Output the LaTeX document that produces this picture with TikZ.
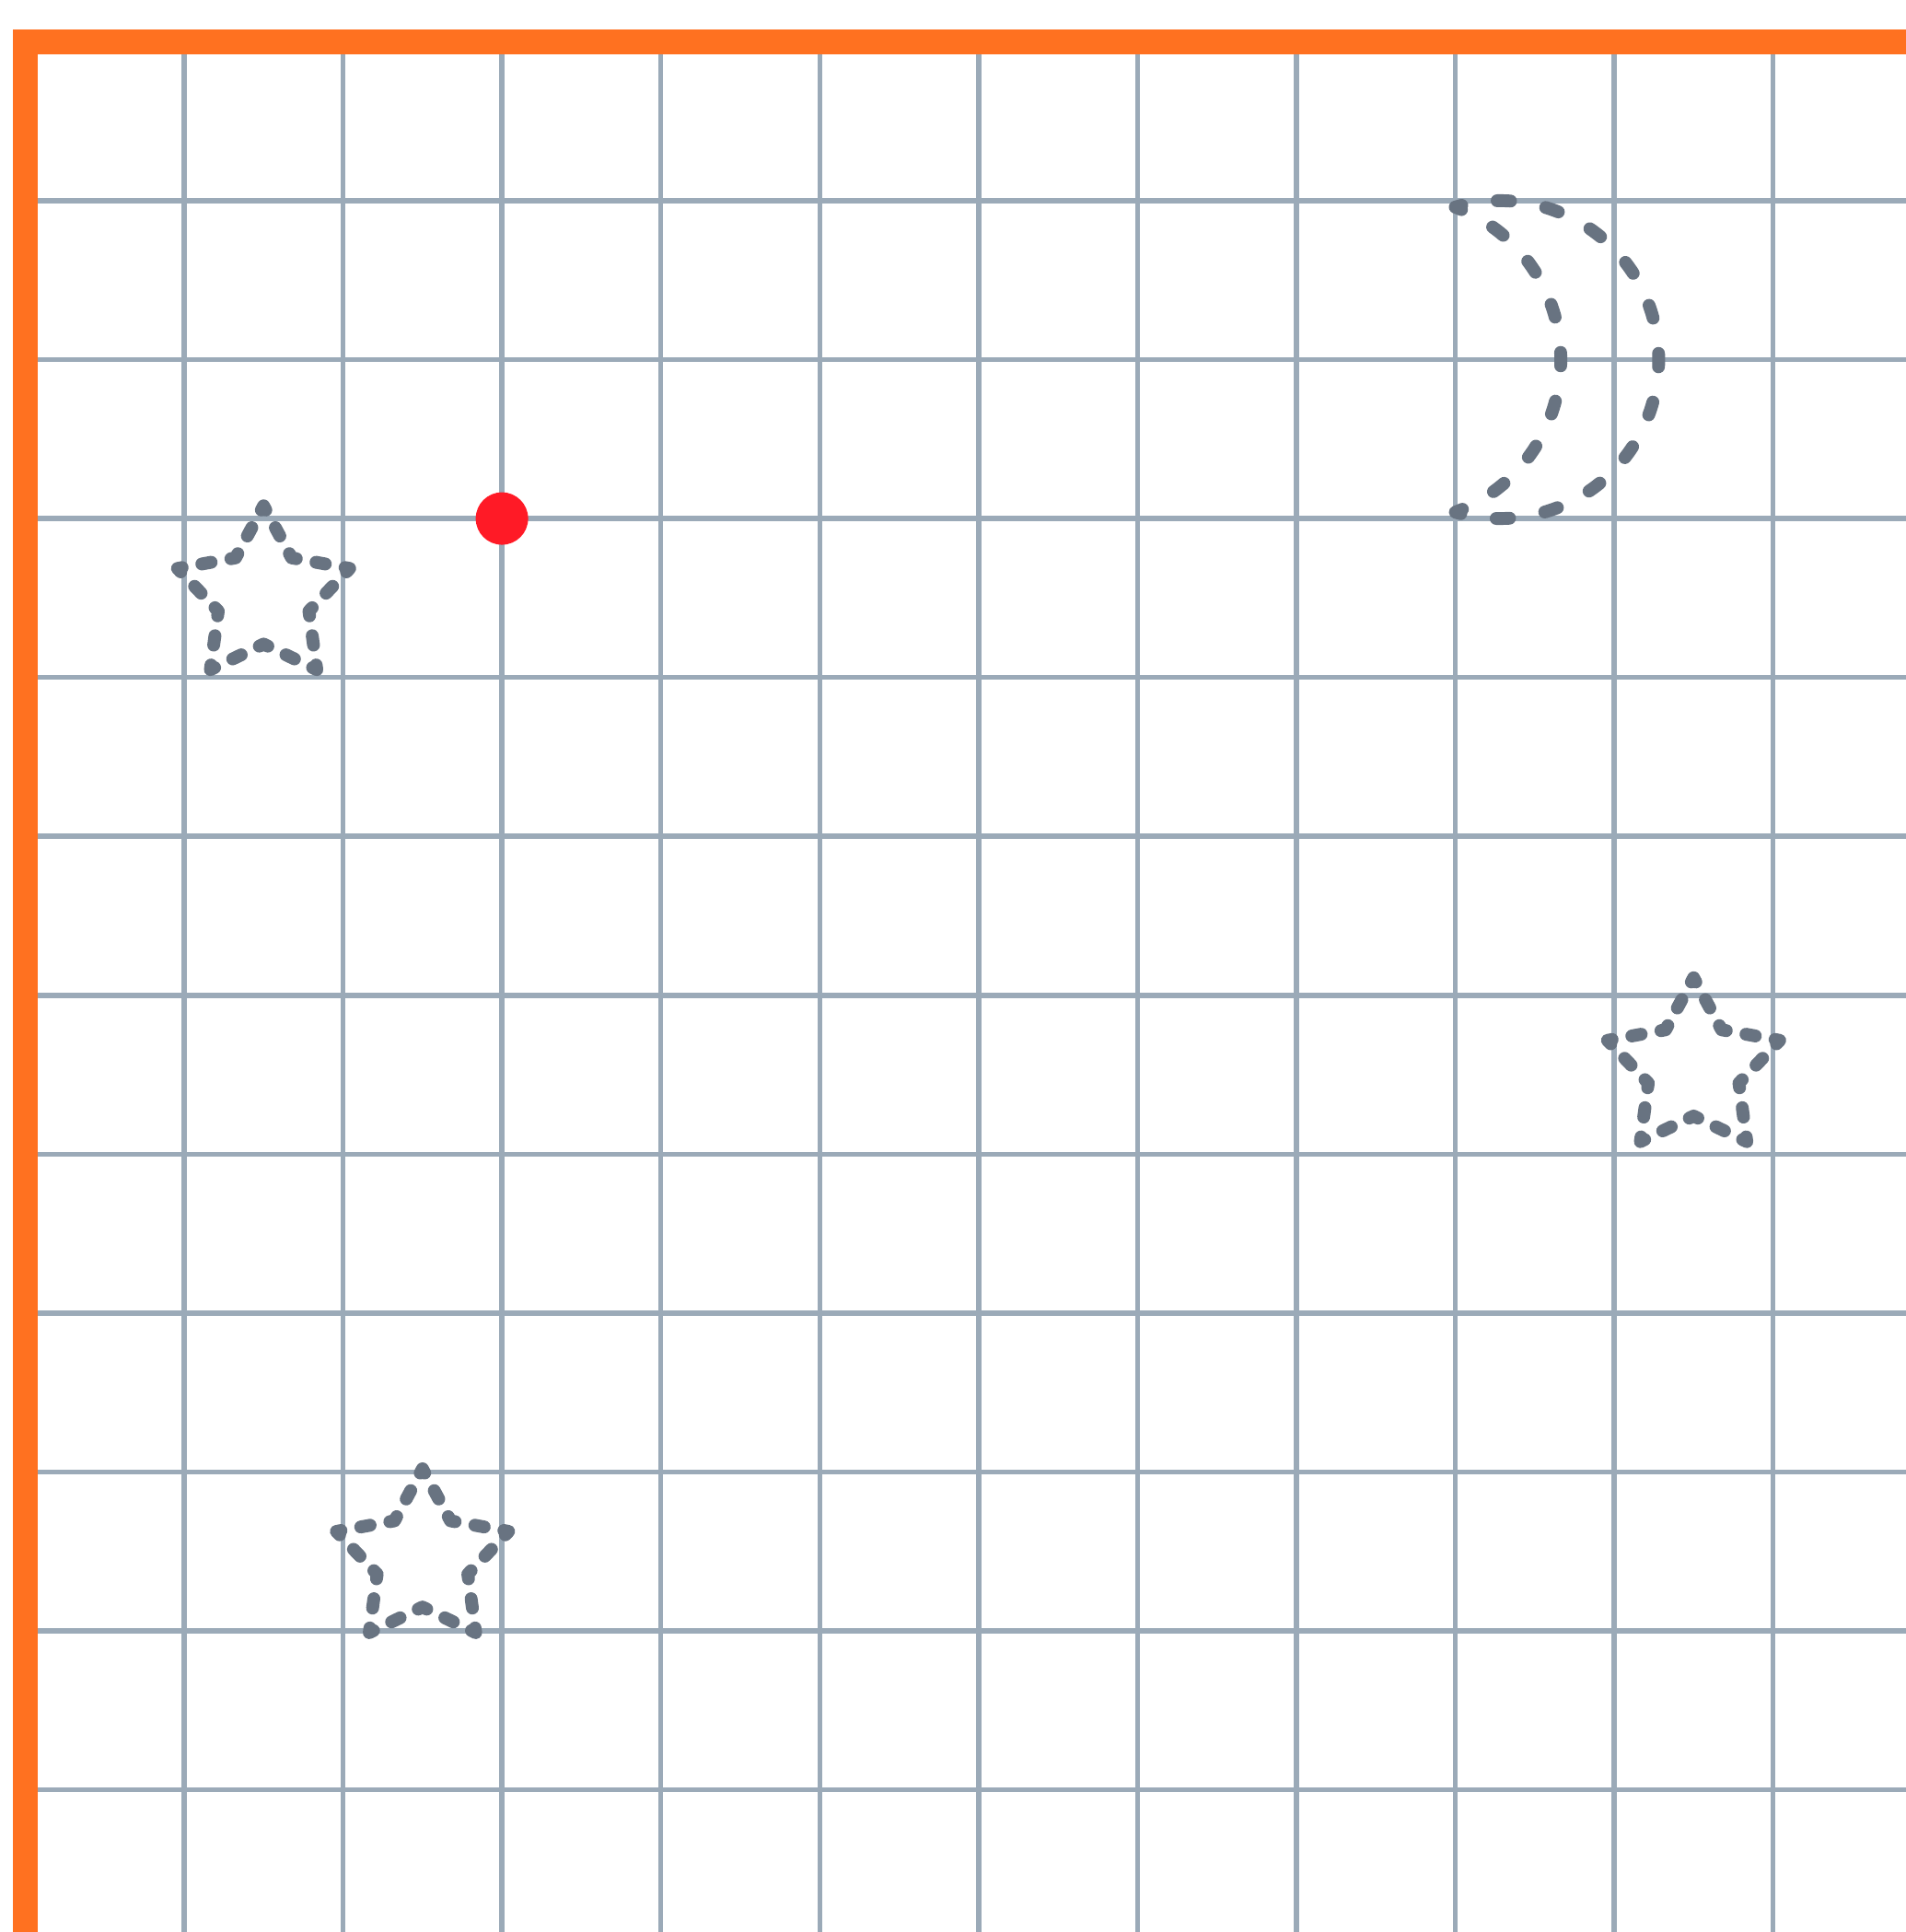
\documentclass[tikz,border=0pt]{standalone}
\definecolor{frameorange}{RGB}{255,113,32}
\definecolor{gridgray}{RGB}{155,170,184}
\definecolor{shapegray}{RGB}{104,115,129}
\definecolor{dotred}{RGB}{255,26,38}
\begin{document}
\begin{tikzpicture}[
  gridline/.style={draw=gridgray, line width=0.9pt},
  framebar/.style={draw=frameorange, line width=4.4pt, line join=miter},
  starline/.style={draw=shapegray, line width=2.3pt, line cap=round, line join=round,
    dash pattern=on 1.7pt off 3.589pt, dash phase=0.85pt},
  moonline/.style={draw=shapegray, line width=2.3pt, line cap=round, line join=round,
    dash pattern=on 2.4pt off 6.41pt, dash phase=1.2pt},
  reddot/.style={circle, fill=dotred, minimum size=0.33cm, inner sep=0pt},
  mystar/.pic={\path[starline] (90:0.57) -- (126:0.3) -- (162:0.57) -- (198:0.3)
      -- (234:0.57) -- (270:0.3) -- (306:0.57) -- (342:0.3) -- (18:0.57) -- (54:0.3) -- cycle;}
]
\useasboundingbox (-0.159,-11.895) rectangle (11.837,0.263);
\clip (-0.159,-11.895) rectangle (11.837,0.263);
\fill[white] (-0.159,-11.895) rectangle (11.837,0.263);
% grid
\foreach \i in {1,...,11} \draw[gridline] (\i,0) -- (\i,-12);
\foreach \j in {1,...,11} \draw[gridline] (0,-\j) -- (12,-\j);
% frame
\draw[framebar] (0,-12) -- (0,0) -- (12,0);
% moon
\draw[moonline] (9,-1.04) arc[start angle=106.26, end angle=-106.26, radius=1]
  arc[start angle=-69.34, end angle=69.34, radius=1.026] -- cycle;
% stars
\pic (starA) at (1.5,-3.49) {mystar};
\pic (starB) at (10.5,-6.46) {mystar};
\pic (starC) at (2.5,-9.55) {mystar};
% red dot
\node[reddot] (dot) at (3,-3) {};
\end{tikzpicture}
\end{document}
